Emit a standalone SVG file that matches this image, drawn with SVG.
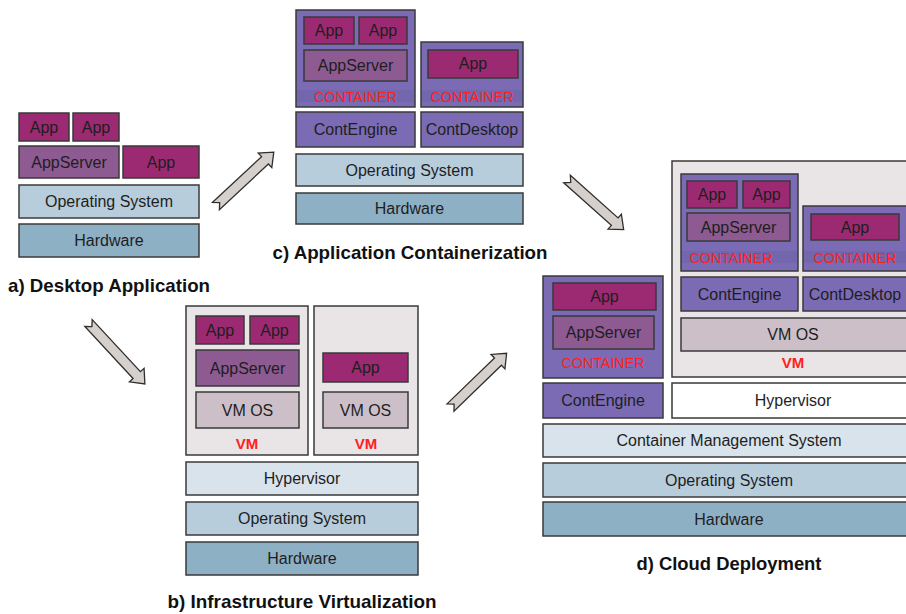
<svg xmlns="http://www.w3.org/2000/svg" width="906" height="614" viewBox="0 0 906 614">
  <style>
    rect { stroke: #3a3a3a; stroke-width: 1.5; }
    .app { fill: #9c2a72; }
    .srv { fill: #8d5a92; }
    .os { fill: #b8cddc; }
    .hw { fill: #8eb0c5; }
    .hyp { fill: #d8e3ec; }
    .hypw { fill: #ffffff; }
    .vm { fill: #e9e5e7; }
    .vmos { fill: #cdbfc8; }
    .ctr { fill: #7a6bb4; }
    .eng { fill: #7a6bb4; }
    .strip { fill: #7266ad; stroke: none; }
    text { font-family: "Liberation Sans", Arial, sans-serif; fill: #1e1e1e; text-anchor: middle; }
    .t { font-size: 16px; }
    .red { font-size: 15px; fill: #ff2020; }
    .vml { font-size: 15px; font-weight: bold; fill: #ff2020; }
    .title { font-size: 19px; font-weight: bold; fill: #111; }
    .arrow { fill: #d5d0cc; stroke: #2e2e2e; stroke-width: 1.3; stroke-linejoin: miter; }
  </style>

  <!-- a) Desktop Application -->
  <g id="desktop">
    <rect class="app" x="19" y="113" width="50" height="28"/><text class="t" x="44" y="133">App</text>
    <rect class="app" x="73" y="113" width="46" height="28"/><text class="t" x="96" y="133">App</text>
    <rect class="srv" x="19" y="146" width="100" height="32"/><text class="t" x="69" y="168">AppServer</text>
    <rect class="app" x="123" y="146" width="76" height="32"/><text class="t" x="161" y="168">App</text>
    <rect class="os" x="19" y="185" width="180" height="33"/><text class="t" x="109" y="207">Operating System</text>
    <rect class="hw" x="19" y="224" width="180" height="33"/><text class="t" x="109" y="246">Hardware</text>
    <text class="title" x="109" y="292" textLength="202" lengthAdjust="spacingAndGlyphs">a) Desktop Application</text>
  </g>

  <!-- c) Application Containerization -->
  <g id="containerization">
    <rect class="ctr" x="296" y="10" width="119" height="97"/>
    <rect class="strip" x="297" y="90" width="117" height="12"/>
    <rect class="app" x="304" y="17" width="50" height="27"/><text class="t" x="329" y="36">App</text>
    <rect class="app" x="359" y="17" width="48" height="27"/><text class="t" x="383" y="36">App</text>
    <rect class="srv" x="304" y="50" width="103" height="31"/><text class="t" x="355.5" y="71">AppServer</text>
    <text class="red" x="355.5" y="102" textLength="83" lengthAdjust="spacingAndGlyphs">CONTAINER</text>

    <rect class="ctr" x="421" y="42" width="102" height="65"/>
    <rect class="strip" x="422" y="90" width="100" height="12"/>
    <rect class="app" x="428" y="50" width="90" height="28"/><text class="t" x="473" y="69">App</text>
    <text class="red" x="472" y="102" textLength="83" lengthAdjust="spacingAndGlyphs">CONTAINER</text>

    <rect class="eng" x="296" y="112" width="119" height="35"/><text class="t" x="355.5" y="135">ContEngine</text>
    <rect class="eng" x="421" y="112" width="102" height="35"/><text class="t" x="472" y="135">ContDesktop</text>
    <rect class="os" x="296" y="154" width="227" height="32"/><text class="t" x="409.5" y="176">Operating System</text>
    <rect class="hw" x="296" y="193" width="227" height="31"/><text class="t" x="409.5" y="214">Hardware</text>
    <text class="title" x="410" y="259" textLength="275" lengthAdjust="spacingAndGlyphs">c) Application Containerization</text>
  </g>

  <!-- b) Infrastructure Virtualization -->
  <g id="virtualization">
    <rect class="vm" x="186" y="306" width="122" height="149"/>
    <rect class="app" x="196" y="316" width="48" height="28"/><text class="t" x="220" y="336">App</text>
    <rect class="app" x="250" y="316" width="49" height="28"/><text class="t" x="274.5" y="336">App</text>
    <rect class="srv" x="196" y="350" width="103" height="36"/><text class="t" x="247.5" y="374">AppServer</text>
    <rect class="vmos" x="196" y="392" width="103" height="36"/><text class="t" x="247.5" y="416">VM OS</text>
    <text class="vml" x="247" y="449">VM</text>

    <rect class="vm" x="314" y="306" width="104" height="149"/>
    <rect class="app" x="323" y="353" width="85" height="29"/><text class="t" x="365.5" y="373">App</text>
    <rect class="vmos" x="323" y="392" width="85" height="36"/><text class="t" x="365.5" y="416">VM OS</text>
    <text class="vml" x="366" y="449">VM</text>

    <rect class="hyp" x="186" y="462" width="232" height="33"/><text class="t" x="302" y="484">Hypervisor</text>
    <rect class="os" x="186" y="502" width="232" height="33"/><text class="t" x="302" y="524">Operating System</text>
    <rect class="hw" x="186" y="542" width="232" height="33"/><text class="t" x="302" y="564">Hardware</text>
    <text class="title" x="302" y="608" textLength="269" lengthAdjust="spacingAndGlyphs">b) Infrastructure Virtualization</text>
  </g>

  <!-- d) Cloud Deployment -->
  <g id="cloud">
    <rect class="vm" x="672" y="161" width="250" height="216"/>
    <rect class="ctr" x="681" y="174" width="117" height="97"/>
    <rect class="strip" x="682" y="251" width="115" height="12"/>
    <rect class="app" x="687" y="181" width="50" height="27"/><text class="t" x="712" y="200">App</text>
    <rect class="app" x="743" y="181" width="47" height="27"/><text class="t" x="766.5" y="200">App</text>
    <rect class="srv" x="687" y="213" width="103" height="28"/><text class="t" x="738.5" y="233">AppServer</text>
    <text class="red" x="731" y="263" textLength="83" lengthAdjust="spacingAndGlyphs">CONTAINER</text>

    <rect class="ctr" x="803" y="206" width="104" height="65"/>
    <rect class="strip" x="804" y="251" width="102" height="12"/>
    <rect class="app" x="811" y="214" width="88" height="26"/><text class="t" x="855" y="233">App</text>
    <text class="red" x="855" y="263" textLength="83" lengthAdjust="spacingAndGlyphs">CONTAINER</text>

    <rect class="eng" x="681" y="277" width="117" height="34"/><text class="t" x="739.5" y="300">ContEngine</text>
    <rect class="eng" x="803" y="277" width="104" height="34"/><text class="t" x="855" y="300">ContDesktop</text>
    <rect class="vmos" x="681" y="318" width="226" height="33"/><text class="t" x="793" y="340">VM OS</text>
    <text class="vml" x="793" y="368">VM</text>

    <rect class="ctr" x="543" y="276" width="120" height="102"/>
    <rect class="app" x="553" y="283" width="103" height="27"/><text class="t" x="604.5" y="302">App</text>
    <rect class="srv" x="553" y="316" width="101" height="33"/><text class="t" x="603.5" y="338">AppServer</text>
    <text class="red" x="603" y="368" textLength="83" lengthAdjust="spacingAndGlyphs">CONTAINER</text>

    <rect class="eng" x="543" y="383" width="120" height="35"/><text class="t" x="603" y="406">ContEngine</text>
    <rect class="hypw" x="672" y="383" width="250" height="35"/><text class="t" x="793" y="406">Hypervisor</text>
    <rect class="hyp" x="543" y="424" width="380" height="33"/><text class="t" x="729" y="446">Container Management System</text>
    <rect class="os" x="543" y="463" width="380" height="34"/><text class="t" x="729" y="486">Operating System</text>
    <rect class="hw" x="543" y="502" width="380" height="34"/><text class="t" x="729" y="525">Hardware</text>
    <text class="title" x="729" y="570" textLength="185" lengthAdjust="spacingAndGlyphs">d) Cloud Deployment</text>
  </g>

  <!-- block arrows between the stages -->
  <g id="connectors">
    <path class="arrow" transform="translate(216,206) rotate(-43)" d="M0,-5 L67,-5 L67,-10 L79,0 L67,10 L67,5 L0,5 L5,0 Z"/>
    <path class="arrow" transform="translate(88.5,323) rotate(47.2)" d="M0,-5 L71,-5 L71,-10 L83,0 L71,10 L71,5 L0,5 L5,0 Z"/>
    <path class="arrow" transform="translate(567,179) rotate(41.8)" d="M0,-5 L64,-5 L64,-10 L76,0 L64,10 L64,5 L0,5 L5,0 Z"/>
    <path class="arrow" transform="translate(450.5,407.5) rotate(-44)" d="M0,-5 L66,-5 L66,-10 L78,0 L66,10 L66,5 L0,5 L5,0 Z"/>
  </g>
</svg>
